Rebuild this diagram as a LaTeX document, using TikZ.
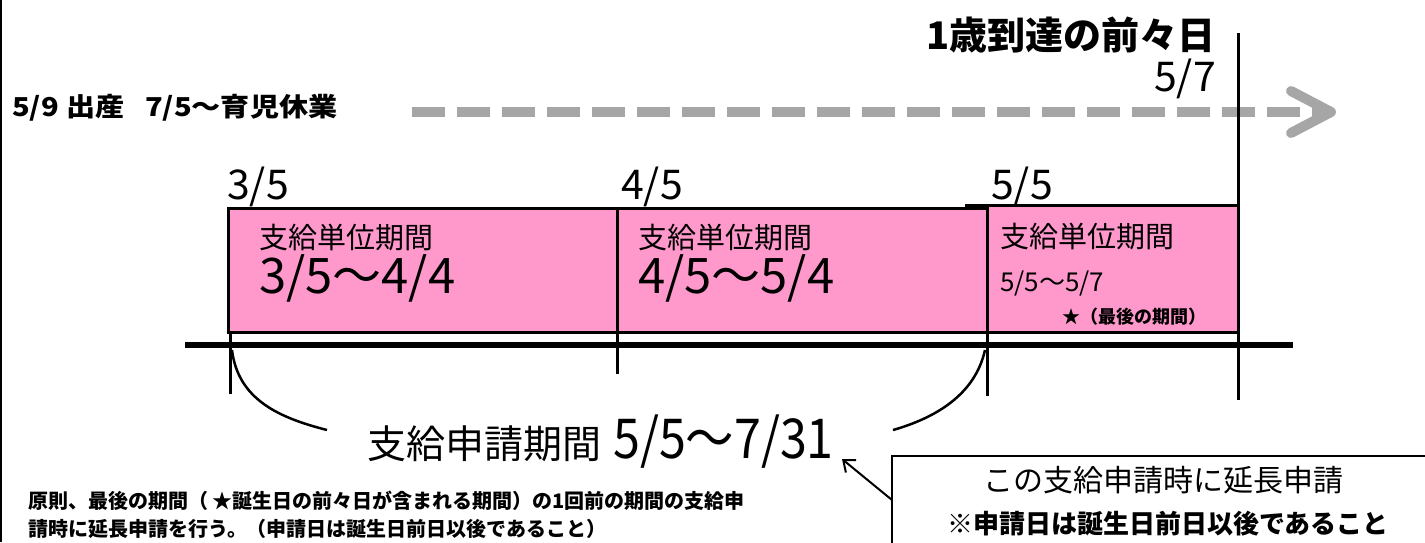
\documentclass[tikz,border=0pt]{standalone}
\usepackage{fontspec}
\setmainfont{Noto Sans CJK JP}
\newfontfamily\narrowfont[FakeStretch=0.88]{Noto Sans CJK JP}
\newfontfamily\widefont[FakeStretch=1.12]{Noto Sans CJK JP}
\usetikzlibrary{arrows.meta,positioning}
\definecolor{boxpink}{HTML}{FF99CC}
\definecolor{leavegray}{HTML}{A6A6A6}
\newcommand\fsz[1]{\fontsize{#1}{#1}\selectfont}

\begin{document}
\begin{tikzpicture}[x=1pt,y=-1pt,
  every node/.style={inner sep=0pt},
  period/.style={draw,line width=3pt,fill=boxpink},
  datelbl/.style={anchor=base west,font=\fsz{41}},
  tick/.style={line width=3pt},
  brace/.style={line width=2.5pt},
  leavearrow/.style={draw=leavegray,line width=10pt,dash pattern=on 33pt off 12pt,
    -{Straight Barb[length=40pt,width=42pt,round]}}]
\useasboundingbox (0,0) rectangle (1425,542);
\draw[line width=2pt] (1,0) -- (1,542);

% leave and the day before the first birthday
\node[anchor=base west,font=\widefont\bfseries\fsz{26}] (leave) at (12,116)
  {5/9\hspace{8pt}出産\hspace{20pt}7/5〜育児休業};
\coordinate (arrS) at (412,112);
\coordinate (arrE) at (1336,112);
\draw[leavearrow] (arrS) -- (arrE);
\node[anchor=base east,font=\bfseries\fsz{38}] (bday) at (1216,49) {1歳到達の前々日};
\node[anchor=base east,font=\fsz{41}] (bdate) at (1216,91) {5/7};
\draw[tick] (1238,33) -- (1238,400);

% periods
\draw[period] (228,208) rectangle (617,332);
\draw[period] (617,208) rectangle (987,332);
\draw[period] (987,205) rectangle (1238,332);
\draw[tick] (965,205) -- (987,205);
\node[datelbl] (d1) at (227,199) {3/5};
\node[datelbl] (d2) at (621,199) {4/5};
\node[datelbl] (d3) at (991,199) {5/5};
\node[anchor=base west,font=\fsz{29}] (p1t) at (259,248) {支給単位期間};
\node[anchor=base west,font=\fsz{49}] (p1d) at (259,293) {3/5〜4/4};
\node[anchor=base west,font=\fsz{29}] (p2t) at (638,248) {支給単位期間};
\node[anchor=base west,font=\fsz{49}] (p2d) at (638,293) {4/5〜5/4};
\node[anchor=base west,font=\fsz{29}] (p3t) at (1000,247) {支給単位期間};
\node[anchor=base west,font=\fsz{26}] (p3d) at (1000,291) {5/5〜5/7};
\node[anchor=base east,font=\bfseries\fsz{18}] (p3n) at (1207,323) {★（最後の期間）};

% time line
\draw[line width=6pt] (185,345) -- (1293,345);
\draw[tick] (230,332) -- (230,394);
\draw[tick] (617,332) -- (617,374);
\draw[tick] (987,332) -- (987,396);
\draw[brace] (232,350) .. controls (238,400) and (280,418) .. (327,430);
\draw[brace] (985,350) .. controls (975,395) and (935,418) .. (893,430);
\node[anchor=base west,font=\fsz{39}] (apply) at (367,458)
  {支給申請期間\hspace{12pt}{\narrowfont\fsz{55}5/5〜7/31}};

% notes
\node[anchor=base west,font=\bfseries\fsz{20}] (note1) at (28,508)
  {原則、最後の期間（ ★誕生日の前々日が含まれる期間）の1回前の期間の支給申};
\node[anchor=base west,font=\bfseries\fsz{20}] (note2) at (28,536)
  {請時に延長申請を行う。（申請日は誕生日前日以後であること）};
\draw[line width=2.5pt] (892,456) rectangle (1440,560);
\node[anchor=base,font=\fsz{30}] (call1) at (1163,491) {この支給申請時に延長申請};
\node[anchor=base,font=\bfseries\fsz{26}] (call2) at (1168,533) {※申請日は誕生日前日以後であること};
\coordinate (callTail) at (892,500);
\coordinate (applyEnd) at (842,459);
\draw[line width=2pt,-{Straight Barb[length=10pt,width=16pt]}] (callTail) -- (applyEnd);
\end{tikzpicture}
\end{document}
